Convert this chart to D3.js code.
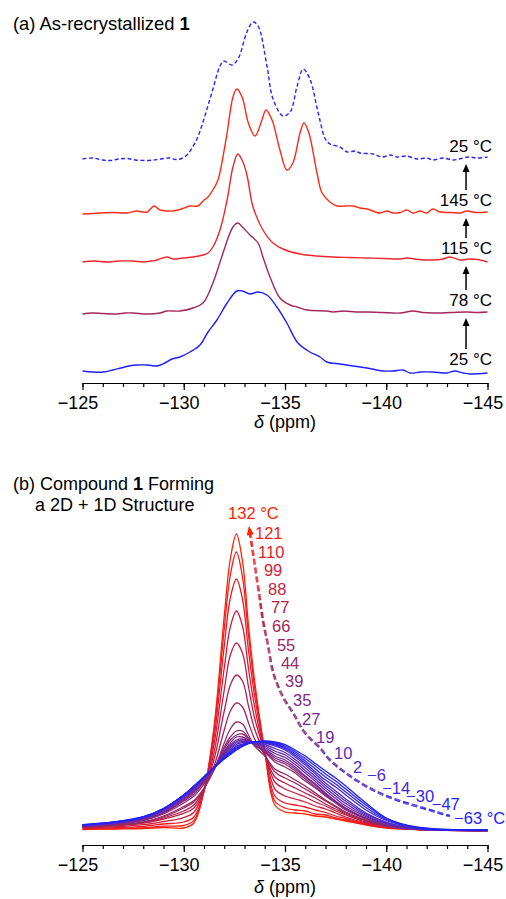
<!DOCTYPE html>
<html><head><meta charset="utf-8">
<script src="https://cdn.jsdelivr.net/npm/d3@7/dist/d3.min.js"></script>
<style>
body{margin:0;background:#fff;}
svg{display:block;font-family:"Liberation Sans",Arial,Helvetica,sans-serif;}
</style>
</head><body>
<svg id="c" width="506" height="899"></svg>
<script>
// ---------------- DATA ----------------
const xMajorTicks = [-125, -130, -135, -140, -145];
const xMinorTicks = d3.range(-125, -145.5, -1);

// Panel (a): spectra as [ppm, intensity] pairs (stacked from top to bottom)
const specA25dashed = [[-125,0],[-125.5,1],[-126,-1],[-126.4,-1.5],[-126.8,0],[-127.2,0.5],[-127.6,-1],[-128.2,-1.5],[-128.7,-0.5],[-129.0,0.5],[-129.3,1],[-129.6,-0.5],[-129.9,0.5],[-130.2,5],[-130.65,20],[-130.95,37],[-131.44,70],[-131.79,93],[-131.98,98],[-132.37,94],[-132.68,100],[-133.12,127],[-133.42,137],[-133.67,133],[-134.11,93],[-134.41,60],[-134.9,43],[-135.25,47],[-135.6,73],[-135.9,90],[-136.23,80],[-136.63,47],[-136.99,20],[-137.22,15],[-137.72,12],[-138.07,7],[-138.46,8],[-138.7,6],[-139.35,5],[-139.8,2],[-140.2,4],[-140.53,2],[-141.0,3],[-141.52,0],[-142.0,1],[-142.3,-1],[-142.8,1],[-143.3,-1],[-143.7,0.5],[-144.05,2],[-144.5,1],[-145,2]];
const specA145 = [[-125,-1],[-125.5,-0.5],[-125.86,0],[-126.5,0.5],[-127.2,0],[-127.69,2],[-127.94,1],[-128.2,1],[-128.53,7],[-128.83,3],[-129.2,2],[-129.47,2],[-129.9,4],[-130.31,7],[-130.7,7],[-131.0,13],[-131.15,15],[-131.44,23],[-131.69,33],[-131.9,52],[-132.14,80],[-132.43,116],[-132.62,124],[-132.88,116],[-133.19,90],[-133.52,77],[-133.86,93],[-134.06,103],[-134.36,93],[-134.75,63],[-135.09,43],[-135.39,50],[-135.74,80],[-135.94,90],[-136.18,80],[-136.58,40],[-136.83,20],[-137.22,11],[-137.57,7],[-138.0,7],[-138.36,7],[-138.7,5],[-139.05,4],[-139.69,0],[-140.04,2],[-140.33,0],[-140.7,0.5],[-141.02,3],[-141.32,0],[-141.67,2],[-142.0,0],[-142.3,4],[-142.65,1],[-143.2,0.5],[-143.64,0],[-143.99,2],[-144.4,0.5],[-145,1]];
const specA115 = [[-125,-1],[-125.6,0],[-126.2,-1],[-126.8,0],[-127.49,0],[-127.99,-1],[-128.4,0],[-128.68,1],[-129.17,4],[-129.47,2],[-129.96,3],[-130.46,4],[-130.95,6],[-131.2,8],[-131.44,14],[-131.79,31],[-132.14,61],[-132.43,94],[-132.67,107],[-132.9,100],[-133.12,86],[-133.32,63],[-133.42,54],[-133.91,31],[-134.41,18],[-134.9,12],[-135.74,7],[-136.58,5],[-137.37,4],[-138.2,3.5],[-139.05,3],[-139.9,2.5],[-140.68,2],[-141.02,3],[-141.6,1.5],[-142.3,1],[-142.8,2],[-143.14,4],[-143.64,1],[-144.1,2],[-144.5,1.5],[-145,-1]];
const specA78 = [[-125,-1],[-125.5,0],[-126.0,-0.5],[-126.7,-1],[-127.1,0],[-127.5,0],[-128.2,-1],[-128.83,0],[-129.17,2],[-129.81,2],[-130.46,5],[-130.95,10],[-131.44,30],[-131.94,60],[-132.43,86],[-132.67,90],[-132.9,86],[-133.27,78],[-133.67,70],[-133.91,56],[-134.26,36],[-134.75,15],[-135.25,8],[-135.6,6],[-136.09,3],[-137.07,2],[-137.37,1],[-137.9,2],[-138.5,1],[-139.05,1],[-139.8,0.5],[-140.68,0],[-141.32,2],[-141.8,0.5],[-142.3,0],[-143.2,0.5],[-143.99,1],[-144.5,0.5],[-145,1]];
const specA25 = [[-125,1],[-125.5,0],[-126.04,0],[-126.5,2],[-126.9,4],[-127.3,6],[-127.69,7],[-128.2,7],[-128.68,6],[-129.07,9],[-129.42,13],[-129.81,15],[-130.31,20],[-130.8,27],[-131.2,40],[-131.64,52],[-132.14,69],[-132.62,81],[-132.9,81],[-133.27,78],[-133.67,80],[-134.11,77],[-134.6,65],[-135.09,49],[-135.64,29],[-136.23,20],[-136.73,15],[-137.07,10],[-137.72,8],[-138.36,6],[-139.05,4],[-139.84,1],[-140.33,1],[-140.83,2],[-141.17,-1],[-141.7,0],[-142.3,0],[-142.99,-1],[-143.39,1],[-143.79,-1],[-144.14,-2],[-145,-1]];
const topSpectra = [specA25dashed, specA145, specA115, specA78, specA25];
const topLabels = ["25 °C", "145 °C", "115 °C", "78 °C", "25 °C"];
const topOffsets = [224, 170, 122, 70, 11];   // stacking offsets (a.u.)

// Panel (b): intensities on a shared ppm grid
const gridPpm = [-125,-126.5,-128,-129,-130,-130.5,-131,-131.5,-132,-132.3,-132.6,-132.9,-133.2,-133.5,-134,-134.5,-135,-135.5,-136,-136.5,-137,-137.5,-138,-139,-140,-141.5,-145];
const i132 = [1.5,2,2.5,3.5,3,8,40,105,215,272,297,270,205,150,80,26,19,18,17,15,14,12,10,6,3,1.5,0.5];
const i121 = [1.9,2.5,3.4,4.9,5.5,10.6,40,101,202,256,279,254,195,144,80,30,23,21,20,17,16,13,11,6.5,3.3,1.5,0.5];
const i110 = [2.4,3.2,4.7,7,9,14,40,94,185,233,252,232,180,135,80,35,28,26,24,21,18.5,15,12.5,7.2,3.8,1.6,0.5];
const i99  = [3,4.1,6.3,9.5,13.4,18.7,41,87,163,204,220,205,162,124,79,42,35,32,29,25,22,18,14,8,4.4,1.6,0.5];
const i88  = [3.6,5,7.8,12,17.7,23,41,79,141,176,188,178,144,113,79,49,42,38,34,29,25,20,16,9,5,1.7,0.5];
const i77  = [3.8,5.3,8.3,13,20,26,42,72,120,146,156,150,125,102,77,54,48,43,38,33,27,22,17,10,5,1.7,0.5];
const i66  = [3.9,5.5,8.7,14,23,29,42,65,101,120,128,124,108,92,76,59,53,48,42,36,30,24,18,10.5,5,1.7,0.5];
const i55  = [4,5.7,9,15,24.5,30.5,43,61,88,102,109,107,96,85,75,62,57,51,45,38,31,25,19,11,5,1.7,0.5];
const i44  = [4.5,6.4,10.3,17,28,35,47,62,84,94,100,100,93,86,79,69,64,58,50,43,35,28,21,12,5.5,1.8,0.5];
const i39  = [4.7,6.9,10.8,18,30,37,49,62,82,91,96,97,92,86,80,71,67,60,52,44,36,29,22,12.4,5.7,1.8,0.5];
const i35  = [4.9,6.8,11.2,18.4,31,39,50,63,80,88,94,94,91,86,81,73,69,62,54,46,37,29,22,12.7,5.9,1.8,0.5];
const i27  = [5,7,11.6,19,32,40,51,63,79,86,91,92,90,86,82,75,71,64,55,47,38,30,23,13,6,1.8,0.5];
const i19  = [5.2,7.3,12.1,19.8,33,41,52,63,78,84.5,89.5,91,90,87,83.5,77.5,73.5,66.5,58,49.5,40.5,32.5,25,14.3,6.8,2,0.6];
const i10  = [5.4,7.7,12.6,20.5,34,42,52.5,63.5,77,83,88,89.5,89.5,87.5,85,80,76,69,60.5,52,43,35,27.5,15.5,7.5,2.2,0.6];
const i2   = [5.5,8,13,21.3,35,43,53.3,63.8,76,81.5,86.5,88.3,89.3,88.3,86.5,82.5,78.5,71.5,63.3,54.5,45.5,37.5,29.8,16.8,8.3,2.4,0.65];
const im6  = [5.7,8.3,13.5,22,36,44,54,64,75,80,85,87,89,89,88,85,81,74,66,57,48,40,32,18,9,2.6,0.7];
const im14 = [5.9,8.5,13.7,22.1,36,44.3,54,63.8,74.3,79.1,84,86.4,88.6,89,88.5,86,82.4,75.8,68,59.3,51,44,36,21,10.5,3,0.75];
const im30 = [6,8.7,14,22.3,36,44.5,54,63.5,73.5,78.3,83,85.8,88.2,89,89,87,83.7,77.5,70,62,54,47,39,23.5,11.5,3.3,0.8];
const im47 = [6.2,8.8,14.2,22.4,36,44.8,54,63.3,72.8,77.4,82,85.2,87.7,89,89.5,88,85,79.3,72.5,65,57,50,42,26,12.5,3.7,0.85];
const im63 = [6.3,9,14.4,22.5,36,45,54,63,72,76.5,81,84.6,87.3,89,90,89,86.4,81,75,67.5,60,53,45,28,13,4,0.9];
const bottomSeries = [i132,i121,i110,i99,i88,i77,i66,i55,i44,i39,i35,i27,i19,i10,i2,im6,im14,im30,im47,im63];
const bottomTemps = ["132 °C","121","110","99","88","77","66","55","44","39","35","27","19","10","2","\u22126","\u221214","\u221230","\u221247","\u221263 °C"];

// label anchors for panel (b) in data units [ppm, intensity]
const bottomLabelAnchors = [[-132.19,318],[-133.52,298],[-133.67,279],[-133.96,261],[-134.16,242],[-134.31,224],[-134.36,205],[-134.6,186],[-134.8,168],[-135.0,150],[-135.4,131],[-135.84,112],[-136.53,94],[-137.42,78],[-138.36,64],[-139.05,56],[-139.8,43],[-140.98,35],[-142.25,26.5],[-143.35,13]];
// dashed trend arrow path in data units
const trendPpm = [-133.22,-133.42,-133.67,-133.91,-134.16,-134.41,-134.9,-135.4,-135.99,-136.73,-137.22,-138.21,-139.35,-140.53,-141.81,-143.14];
const trendInt = [305,278,244,211,186,159,134,118,98,83,71,55,41,31,23,15];

// ---------------- STYLE ----------------
const topColors = ["#2a22ff","#ff2a14","#ee2630","#a3285a","#1f1fff"];
const tempColors = ["#ff2200","#f41c1c","#e61a2a","#d41c38","#c21e44","#b2204e","#a42458","#982864","#8e2a72","#882a7c","#822a86","#782a92","#6c2aa2","#602ab2","#562abf","#4c2acc","#4028da","#3426e8","#2a24f2","#1e20ff"];

const svg = d3.select("#c");
const x = d3.scaleLinear().domain([-125,-145]).range([82.5,487.5]);
const yTop = d3.scaleLinear().domain([0,360]).range([383,23]);
const yBot = d3.scaleLinear().domain([0,330]).range([831,501]);

// ---------- Panel (a) ----------
svg.append("text").attr("x",13).attr("y",30).attr("font-size",18.4)
  .call(t=>{t.append("tspan").text("(a) As-recrystallized ");t.append("tspan").attr("font-weight","bold").text("1");});

topSpectra.forEach((spec,k)=>{
  const line = d3.line().x(d=>x(d[0])).y(d=>yTop(topOffsets[k]+d[1])).curve(d3.curveCatmullRom.alpha(0.5));
  svg.append("path").attr("d",line(spec)).attr("fill","none")
    .attr("stroke",topColors[k]).attr("stroke-width",1.4)
    .attr("stroke-dasharray", k===0 ? "4,2.5" : null);
  svg.append("text").attr("x",492).attr("y",yTop(topOffsets[k])-13).attr("dy","0.35em")
    .attr("text-anchor","end").attr("font-size",17).text(topLabels[k]);
  if(k>0){
    const ax = x(-143.94);
    const y1 = yTop(topOffsets[k]) - 23, y2 = yTop(topOffsets[k-1]) + 5;
    svg.append("line").attr("x1",ax).attr("x2",ax).attr("y1",y1).attr("y2",y2+6)
      .attr("stroke","#000").attr("stroke-width",1.5);
    svg.append("path").attr("d",`M${ax},${y2}L${ax-3.5},${y2+8}L${ax+3.5},${y2+8}Z`).attr("fill","#000");
  }
});

function drawAxis(y0, labelY){
  const gMin = svg.append("g").attr("transform",`translate(0,${y0})`)
    .call(d3.axisBottom(x).tickValues(xMinorTicks).tickSize(4).tickSizeOuter(0).tickFormat(""));
  const gMaj = svg.append("g").attr("transform",`translate(0,${y0})`)
    .call(d3.axisBottom(x).tickValues(xMajorTicks).tickSize(7).tickSizeOuter(0).tickPadding(6).tickFormat(d3.format("d")));
  gMaj.select(".domain").remove();
  [gMin,gMaj].forEach(g=>{
    g.attr("font-family",null).attr("font-size",18);
    g.selectAll("line,path").attr("stroke","#000").attr("stroke-width",1.2);
    g.selectAll("text").attr("fill","#000");
  });
  // digits centred on the tick, minus sign hanging to the left
  gMaj.selectAll("text").attr("dx",-5);
  const t = svg.append("text").attr("x",x(-135)).attr("y",labelY).attr("text-anchor","middle").attr("font-size",18);
  t.append("tspan").attr("font-style","italic").text("\u03B4");
  t.append("tspan").text(" (ppm)");
}
drawAxis(383, 428);

// ---------- Panel (b) ----------
svg.append("text").attr("x",13).attr("y",490).attr("font-size",18)
  .call(t=>{t.append("tspan").text("(b) Compound ");t.append("tspan").attr("font-weight","bold").text("1");t.append("tspan").text(" Forming");});
svg.append("text").attr("x",35).attr("y",510.5).attr("font-size",18).text("a 2D + 1D Structure");

const lineB = d3.line().x((d,i)=>x(gridPpm[i])).y(d=>yBot(d)).curve(d3.curveCatmullRom.alpha(0.5));
bottomSeries.forEach((s,k)=>{
  svg.append("path").attr("d",lineB(s)).attr("fill","none")
    .attr("stroke",tempColors[k]).attr("stroke-width",1.3);
});

// dashed gradient trend arrow
const trendLine = d3.line().x((d,i)=>x(trendPpm[i])).y(d=>yBot(d)).curve(d3.curveCatmullRom.alpha(0.5));
const hidden = svg.append("path").attr("d",trendLine(trendInt)).attr("fill","none").attr("stroke","none");
const node = hidden.node();
const total = node.getTotalLength();
const cScale = d3.scaleLinear().domain(d3.range(tempColors.length).map(i=>i/(tempColors.length-1))).range(tempColors).interpolate(d3.interpolateRgb);
const startL = 6;
for(let L=startL; L<total; L+=1){
  const phase = (L-startL) % 9;
  if(phase < 5.5){
    const p0 = node.getPointAtLength(L), p1 = node.getPointAtLength(Math.min(L+1.05,total));
    svg.append("line").attr("x1",p0.x).attr("y1",p0.y).attr("x2",p1.x).attr("y2",p1.y)
      .attr("stroke",cScale(L/total)).attr("stroke-width",2.6);
  }
}
{
  const p0 = node.getPointAtLength(0), p1 = node.getPointAtLength(8);
  const ang = Math.atan2(p0.y-p1.y, p0.x-p1.x);
  const tipX = p0.x, tipY = p0.y;
  const bx = tipX - 9*Math.cos(ang), by = tipY - 9*Math.sin(ang);
  const nx = -Math.sin(ang), ny = Math.cos(ang);
  svg.append("path").attr("d",`M${tipX},${tipY}L${bx+3.6*nx},${by+3.6*ny}L${bx-3.6*nx},${by-3.6*ny}Z`).attr("fill",tempColors[0]);
}

bottomTemps.forEach((t,k)=>{
  svg.append("text").attr("x",x(bottomLabelAnchors[k][0])).attr("y",yBot(bottomLabelAnchors[k][1]))
    .attr("dy","0.35em").attr("font-size",16.5).attr("fill",tempColors[k]).text(t);
});

drawAxis(845, 893);
</script>
</body></html>
